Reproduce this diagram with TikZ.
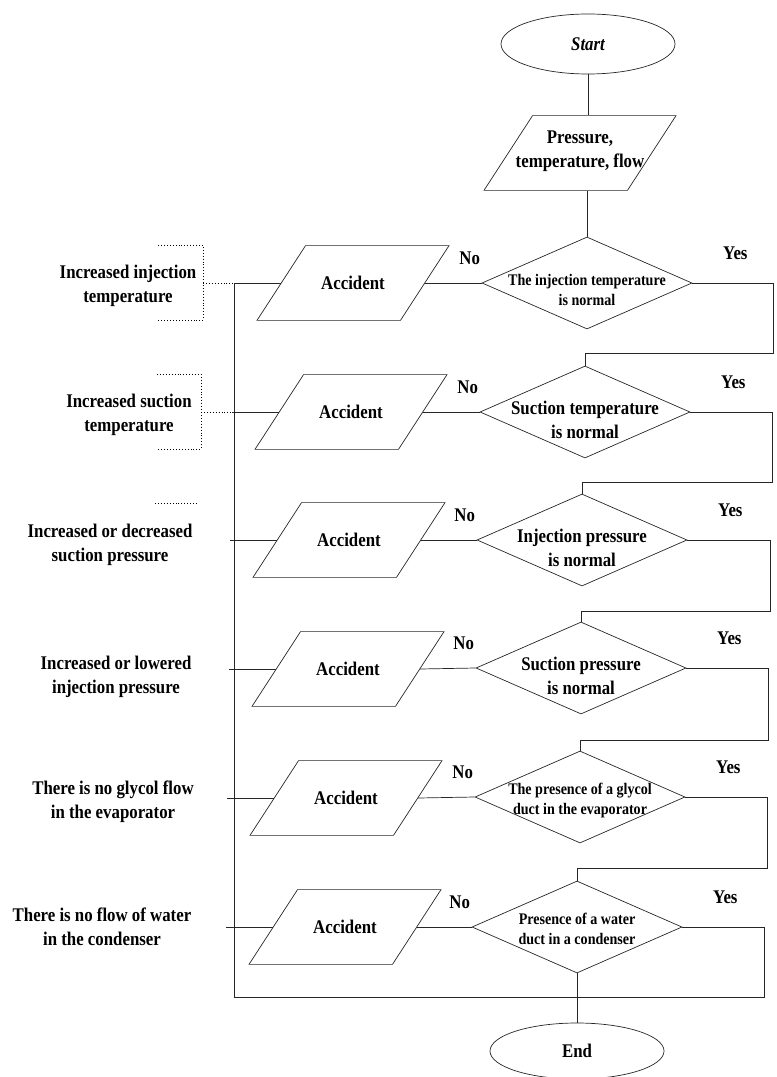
\documentclass[tikz,border=0pt]{standalone}
\usepackage{fontspec}
\setmainfont{Liberation Serif}[FakeStretch=0.87]
\usetikzlibrary{shapes.geometric,calc}
\newcommand{\bigtext}{\fontsize{16.5}{20.4}\selectfont\bfseries}
\newcommand{\smalltext}{\fontsize{13.8}{17}\selectfont\bfseries}
\newcommand{\dtext}[2][0.45em]{\makebox[0pt]{\raisebox{-#1}[0pt][0pt]{\begin{tabular}{@{}c@{}}#2\end{tabular}}}}
\tikzset{%
  font=\bigtext,
  flowline/.style={draw=black!85,line width=0.6pt},
  terminal/.style={ellipse,flowline,minimum width=5.22cm,minimum height=1.8cm,inner sep=0pt},
  inout/.style={trapezium,trapezium left angle=57,trapezium right angle=123,trapezium stretches body=true,
    flowline,minimum width=5.76cm,inner sep=0pt,text height=37.7pt,text depth=26.1pt,align=center},
  decision/.style={diamond,flowline,minimum width=6.3cm,minimum height=2.76cm,inner sep=0pt},
  cause/.style={align=center},
  causeframe/.style={draw=black,line width=0.5pt,dotted}
}
\begin{document}
\begin{tikzpicture}[x=0.03cm,y=-0.03cm]
	\useasboundingbox (0,0) rectangle (776,1077);
	% main column
	\node[terminal,font=\bigtext\itshape] (start) at (588,44) {Start};
	\node[inout,text height=34pt,text depth=29.8pt] (input) at (580,153)
		{\makebox[0pt]{\begin{tabular}{@{}c@{}}Pressure,\\temperature, flow\end{tabular}}};
	\node[decision] (check1) at (587,283) {\smalltext\dtext[0.76em]{The injection temperature\\is normal}};
	\node[decision] (check2) at (585,412) {\dtext[0.76em]{Suction temperature\\is normal}};
	\node[decision] (check3) at (582,540) {\dtext[0.76em]{Injection pressure\\is normal}};
	\node[decision] (check4) at (581,668) {\dtext[0.76em]{Suction pressure\\is normal}};
	\node[decision] (check5) at (580,797) {\smalltext\dtext{The presence of a glycol\\duct in the evaporator}};
	\node[decision] (check6) at (577,927) {\smalltext\dtext{Presence of a water\\duct in a condenser}};
	\node[terminal,minimum height=1.68cm] (stop) at (577,1051) {End};
	
	% accidents
	\node[inout] (acc1) at (353,283) {Accident};
	\node[inout] (acc2) at (351,412) {Accident};
	\node[inout] (acc3) at (349,540) {Accident};
	\node[inout] (acc4) at (348,669) {Accident};
	\node[inout] (acc5) at (346,798) {Accident};
	\node[inout] (acc6) at (345,927) {Accident};
	
	% causes
	\node[cause] (cause1) at (128,286) {Increased injection\\temperature};
	\node[cause] (cause2) at (129,415) {Increased suction\\temperature};
	\node[cause] (cause3) at (110,545) {Increased or decreased\\suction pressure};
	\node[cause] (cause4) at (116,677) {Increased or lowered\\injection pressure};
	\node[cause] (cause5) at (113,802) {There is no glycol flow\\in the evaporator};
	\node[cause] (cause6) at (102,927) {There is no flow of water\\in the condenser};
	
	\foreach \i in {1,...,6} {
		\node (no\i) at ($(check\i.west)+(-12,-25)$) {No};
		\node (yes\i) at ($(check\i.east)+(43,-30)$) {Yes};
		\draw[flowline] (acc\i.right side) -- (check\i.west);
		\draw[flowline] (acc\i.left side) -- ++(-47,0);
	}
	
	\coordinate (bus) at (234,997);
	\draw[flowline] (start.south) -- (start.south |- input.north);
	\draw[flowline] (check1.north |- input.south) -- (check1.north);
	\draw[flowline] (check1.east) -| (773,353) -| (check2.north);
	\draw[flowline] (check2.east) -| (772,482) -| (check3.north);
	\draw[flowline] (check3.east) -| (770,611) -| (check4.north);
	\draw[flowline] (check4.east) -| (768,740) -| (check5.north);
	\draw[flowline] (check5.east) -| (767,868) -| (check6.north);
	\draw[flowline] (check6.east) -| (764,997) -- (bus) -- (bus |- acc1.left side);
	\draw[flowline] (check6.south) -- (stop.north);
	
	% dotted frames
	\draw[causeframe] (158,245) -| (203,320) -- (158,320);
	\draw[causeframe] (203,283) -- (234,283);
	\draw[causeframe] (157,374) -| (201,449) -- (157,449);
	\draw[causeframe] (201,412) -- (232,412);
	\draw[causeframe] (155,503) -- (198,503);
\end{tikzpicture}
\end{document}
